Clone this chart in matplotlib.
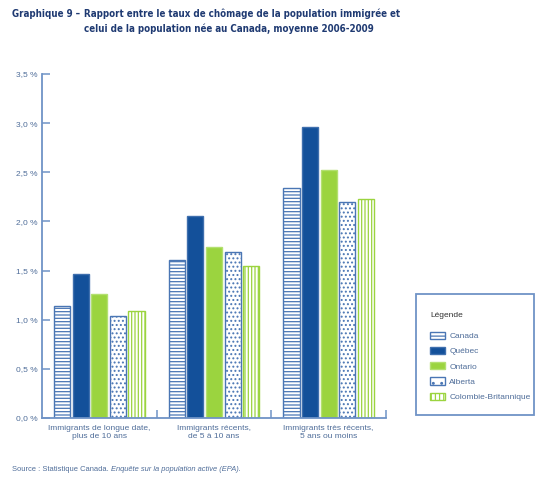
import matplotlib
matplotlib.use('Agg')
import matplotlib.pyplot as plt
import numpy as np
from matplotlib.patches import Rectangle, Patch

# data
categories = ['Immigrants de longue date,\nplus de 10 ans',
              'Immigrants récents,\nde 5 à 10 ans',
              'Immigrants très récents,\n5 ans ou moins']
provinces = ['Canada', 'Québec', 'Ontario', 'Alberta', 'Colombie-Britannique']
canada = [1.14, 1.61, 2.34]
quebec = [1.47, 2.06, 2.96]
ontario = [1.26, 1.74, 2.52]
alberta = [1.04, 1.69, 2.20]
colombie = [1.09, 1.55, 2.23]
yticks = [0, 0.5, 1.0, 1.5, 2.0, 2.5, 3.0, 3.5]
ytick_labels = ['0,0 %', '0,5 %', '1,0 %', '1,5 %', '2,0 %', '2,5 %', '3,0 %', '3,5 %']

blue = '#13509a'
green = '#9bd43f'
lineblue = '#4a76b4'
spine = '#6f93c6'
textcol = '#4f6d99'
navy = '#1f3a72'
sans = ['Liberation Sans', 'DejaVu Sans']

plt.rcParams['font.family'] = sans
plt.rcParams['hatch.linewidth'] = 0.9

fig = plt.figure(figsize=(5.41, 4.80), dpi=100)
ax = fig.add_axes([42/541, 62/480, 344/541, 344/480])

series = [canada, quebec, ontario, alberta, colombie]
styles = [
    dict(facecolor='white', edgecolor=lineblue, hatch='-----'),
    dict(facecolor=blue, edgecolor='#3f6fae'),
    dict(facecolor=green, edgecolor='#b3e070'),
    dict(facecolor='white', edgecolor=lineblue, hatch='....'),
    dict(facecolor='white', edgecolor=green, hatch='|||||'),
]
legend_hatch = ['---', None, None, '..', '||||']
x = np.arange(len(categories))
width = 0.14
pitch = 0.162
handles = []
for i, (vals, st) in enumerate(zip(series, styles)):
    ax.bar(x + (i - 2) * pitch, vals, width, linewidth=1.0, label=provinces[i], **st)
    hs = dict(st)
    hs['hatch'] = legend_hatch[i]
    handles.append(Patch(linewidth=1.0, **hs))

ax.set_xlim(-0.5, 2.5)
ax.set_ylim(0, 3.5)
for s in ['top', 'right']:
    ax.spines[s].set_visible(False)
for s in ['left', 'bottom']:
    ax.spines[s].set_color(spine)
    ax.spines[s].set_linewidth(1.3)

ax.set_yticks(yticks)
ax.set_yticklabels(ytick_labels)
ax.tick_params(axis='y', direction='in', length=6, width=1.1, color=spine,
               labelsize=6, labelcolor=textcol, pad=3.5)
ax.set_xticks([0.5, 1.5, 2.5])
ax.set_xticklabels([])
ax.tick_params(axis='x', which='major', direction='in', length=6, width=1.1, color=spine)
ax.set_xticks(x, minor=True)
ax.set_xticklabels(categories, minor=True)
ax.tick_params(axis='x', which='minor', length=0, labelsize=6, labelcolor=textcol, pad=5)
for lab in ax.get_xticklabels(minor=True):
    lab.set_linespacing(1.25)

# title (bold condensed)
tkw = dict(fontsize=7.0, fontweight='bold', color=navy, fontstretch='condensed',
           family=['DejaVu Sans'], va='baseline')
fig.text(12/541, 1 - 17/480, 'Graphique 9 –', **tkw)
fig.text(84/541, 1 - 17/480,
         'Rapport entre le taux de chômage de la population immigrée et', **tkw)
fig.text(84/541, 1 - 32/480,
         'celui de la population née au Canada, moyenne 2006-2009', **tkw)

# legend box
fig.patches.append(Rectangle((416/541, 65/480), 118/541, 121/480, transform=fig.transFigure,
                             fill=False, edgecolor=spine, linewidth=1.3))
leg = fig.legend(handles=handles, labels=provinces, loc='upper left',
                 bbox_to_anchor=(430/541, 1 - 312/480), frameon=False, borderpad=0,
                 borderaxespad=0, title='Légende', alignment='left',
                 fontsize=6, title_fontsize=6,
                 handlelength=1.8, handleheight=1.0, labelspacing=0.8, handletextpad=0.5)
for t in leg.get_texts():
    t.set_color(textcol)
leg.get_title().set_color('#333333')
leg._legend_box.sep = 9

# source
src = fig.text(12/541, 1 - 471/480, 'Source : Statistique Canada. ', fontsize=5.4,
               color=textcol, va='baseline')
plt.annotate('Enquête sur la population active (EPA).', xy=(1, 0), xycoords=src,
             fontsize=5.4, color=textcol, style='italic', va='bottom',
             annotation_clip=False)

plt.savefig('out.png', dpi=100)
